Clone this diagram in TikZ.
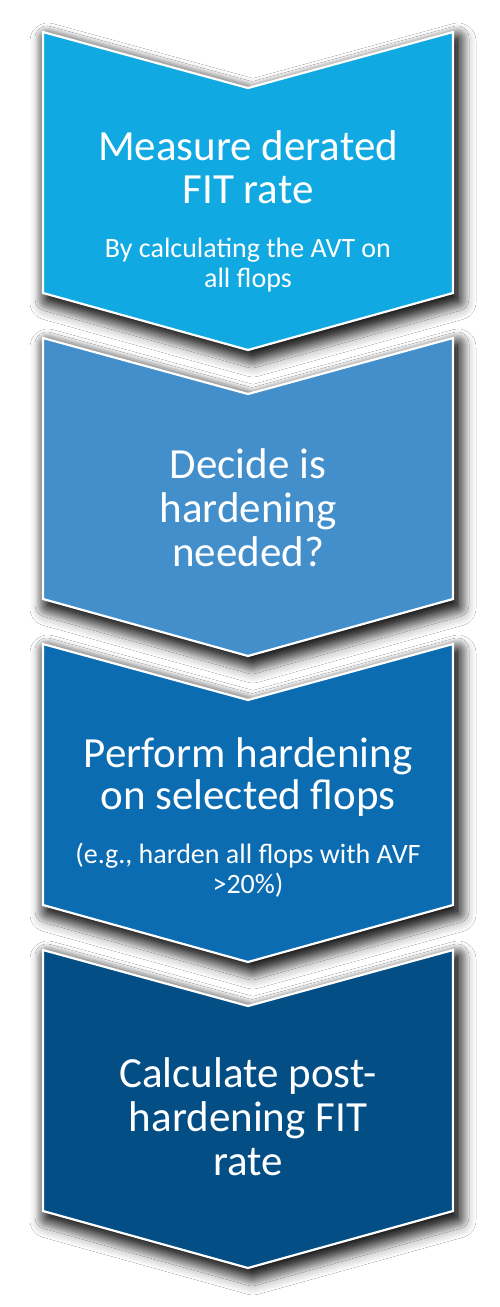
\documentclass[tikz,border=0pt]{standalone}
\usepackage{fontspec}
\setmainfont{Carlito}
\usetikzlibrary{shadows.blur}
\definecolor{cA}{HTML}{11A9E1}
\definecolor{cB}{HTML}{428FCB}
\definecolor{cC}{HTML}{0B6CB2}
\definecolor{cD}{HTML}{034E85}
\begin{document}
\begin{tikzpicture}[x=1pt,y=-1pt,
  chev/.style={draw=white,line width=2.2pt,line join=miter,
    blur shadow={shadow xshift=4pt,shadow yshift=-6pt,shadow blur radius=12pt,shadow opacity=100,shadow blur steps=16}},
  chevshade/.style={fill=white,
    blur shadow={shadow xshift=5pt,shadow yshift=-9pt,shadow blur radius=18pt,shadow opacity=70,shadow blur steps=16}},
  ttl/.style={text=white,font=\fontsize{43}{45}\selectfont,anchor=base,inner sep=0pt},
  sub/.style={text=white,font=\fontsize{28}{30}\selectfont,anchor=base,inner sep=0pt}]
\useasboundingbox[fill=white] (0,0) rectangle (500,1307);
\foreach \y/\c in {32/cA,338/cB,644/cC,950/cD}{
  \path[chevshade] (43,\y) -- (248,\y+56) -- (453,\y) -- (453,\y+261) -- (248,\y+318) -- (43,\y+261) -- cycle;
  \filldraw[chev,fill=\c] (43,\y) -- (248,\y+56) -- (453,\y) -- (453,\y+261) -- (248,\y+318) -- (43,\y+261) -- cycle;
}
% chevron 1
\node[ttl] (m1) at (248,160) {Measure derated};
\node[ttl] (m2) at (248,203) {FIT rate};
\node[sub] (m3) at (248,257) {By calculating the AVT on};
\node[sub] (m4) at (248,287) {all flops};
% chevron 2
\node[ttl] (d1) at (248,478) {Decide is};
\node[ttl] (d2) at (248,522.5) {hardening};
\node[ttl] (d3) at (248,566) {needed?};
% chevron 3
\node[ttl] (p1) at (248,767) {Perform hardening};
\node[ttl] (p2) at (248,809) {on selected flops};
\node[sub] (p3) at (248,863) {(e.g., harden all flops with AVF};
\node[sub] (p4) at (248,893) {>20\%)};
% chevron 4
\node[ttl] (c1) at (248,1087) {Calculate post-};
\node[ttl] (c2) at (248,1131) {hardening FIT};
\node[ttl] (c3) at (248,1175) {rate};
\end{tikzpicture}
\end{document}
